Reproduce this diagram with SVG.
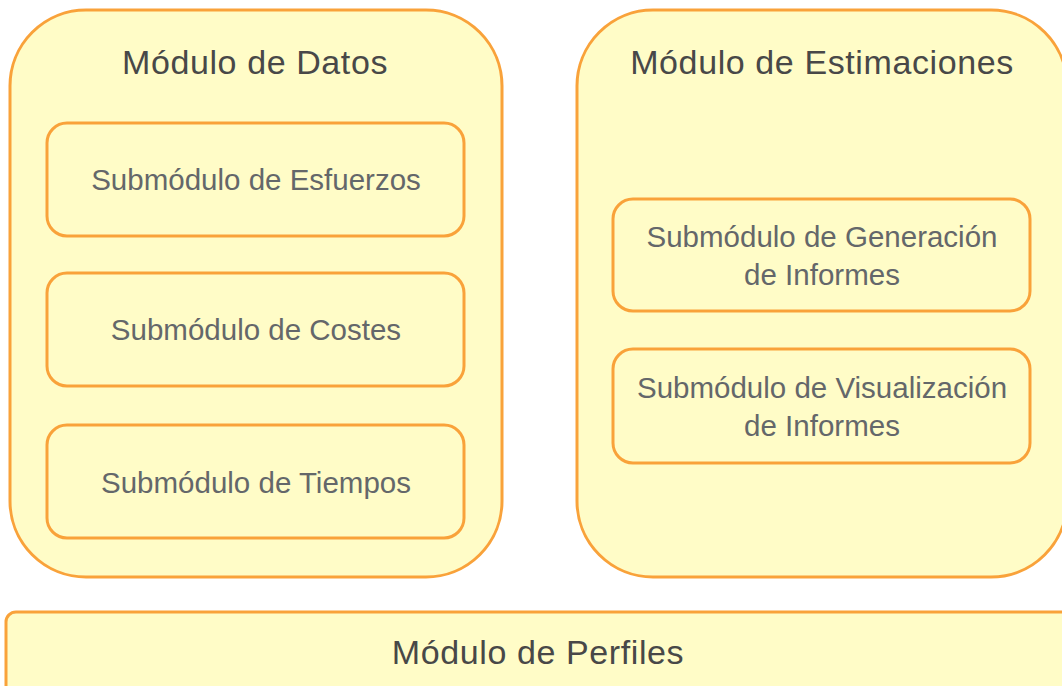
<svg xmlns="http://www.w3.org/2000/svg" width="1062" height="686" viewBox="0 0 1062 686">
<style>
.box{fill:#FFFCC7;stroke:#F9A23A;stroke-width:3}
.title{font-family:"Liberation Sans",Arial,sans-serif;font-size:34px;letter-spacing:0.6px;fill:#484848;text-anchor:middle}
.sub{font-family:"Liberation Sans",Arial,sans-serif;font-size:29.5px;fill:#64676a;text-anchor:middle}
</style>
<rect width="1062" height="686" fill="#ffffff"/>
<g id="datos">
<rect class="box" x="10" y="10" width="492" height="567" rx="76" ry="76"/>
<text class="title" x="255" y="74">Módulo de Datos</text>
</g>
<g id="esfuerzos">
<rect class="box" x="47" y="123" width="417" height="113" rx="20"/>
<text class="sub" x="256" y="190">Submódulo de Esfuerzos</text>
</g>
<g id="costes">
<rect class="box" x="47" y="273" width="417" height="113" rx="20"/>
<text class="sub" x="256" y="340">Submódulo de Costes</text>
</g>
<g id="tiempos">
<rect class="box" x="47" y="425" width="417" height="113" rx="20"/>
<text class="sub" x="256" y="493">Submódulo de Tiempos</text>
</g>
<g id="estimaciones">
<rect class="box" x="577" y="10" width="490" height="567" rx="76" ry="76"/>
<text class="title" x="822" y="74">Módulo de Estimaciones</text>
</g>
<g id="generacion">
<rect class="box" x="613" y="199" width="417" height="112" rx="20"/>
<text class="sub" x="822" y="247">Submódulo de Generación</text>
<text class="sub" x="822" y="285">de Informes</text>
</g>
<g id="visualizacion">
<rect class="box" x="613" y="349" width="417" height="114" rx="20"/>
<text class="sub" x="822" y="398">Submódulo de Visualización</text>
<text class="sub" x="822" y="436">de Informes</text>
</g>
<g id="perfiles">
<rect class="box" x="6" y="612" width="1070" height="90" rx="10"/>
<text class="title" x="538" y="664">Módulo de Perfiles</text>
</g>
<g id="connectors"/>
</svg>
